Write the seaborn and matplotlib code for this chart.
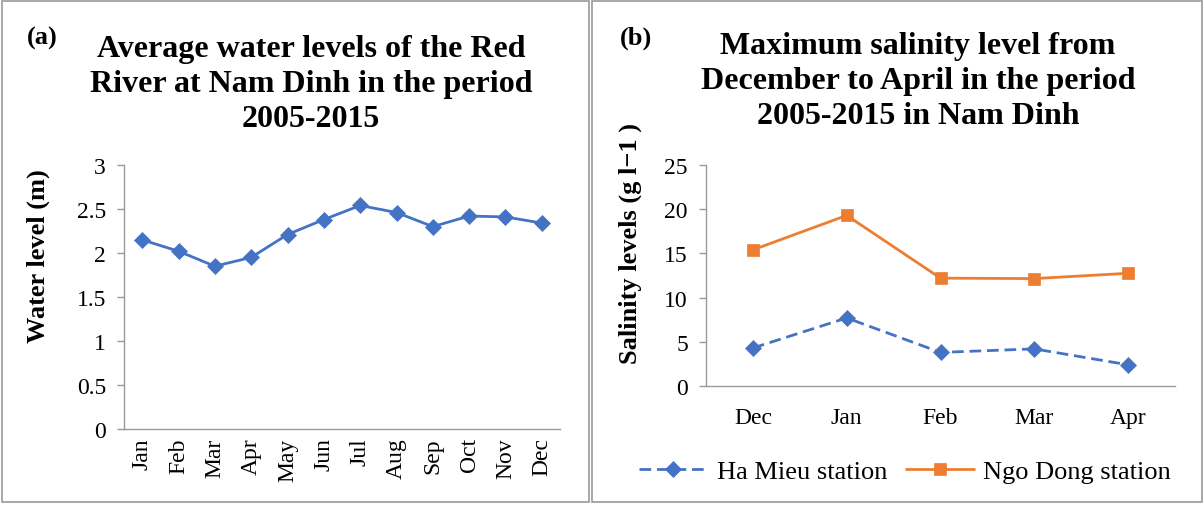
import pandas as pd
import matplotlib.pyplot as plt
import seaborn as sns
from matplotlib.patches import Rectangle

# panel (a): average monthly water level, Red River at Nam Dinh
MONTHS = ["Jan", "Feb", "Mar", "Apr", "May", "Jun",
          "Jul", "Aug", "Sep", "Oct", "Nov", "Dec"]
WATER_LEVEL = [2.15, 2.02, 1.85, 1.95, 2.21, 2.38,
               2.54, 2.46, 2.30, 2.42, 2.41, 2.34]

# panel (b): maximum salinity Dec-Apr
SEASON = ["Dec", "Jan", "Feb", "Mar", "Apr"]
HA_MIEU = [4.3, 7.7, 3.8, 4.2, 2.4]
NGO_DONG = [15.4, 19.3, 12.2, 12.15, 12.75]

BLUE = "#4472C4"
ORANGE = "#ED7D31"
AXIS_GREY = "#9a9a9a"

sns.set_theme(style="white")
plt.rcParams["font.family"] = ["Liberation Serif", "DejaVu Serif"]
plt.rcParams["text.color"] = "black"

W, H = 1204, 506
fig = plt.figure(figsize=(W / 100, H / 100), dpi=100)


def px(x, y):
    # pixel position (from top-left) -> figure fraction
    return x / W, 1 - y / H


def style_axes(ax):
    sns.despine(ax=ax)
    for side in ["left", "bottom"]:
        ax.spines[side].set_color(AXIS_GREY)
        ax.spines[side].set_linewidth(1.0)
    ax.tick_params(axis="y", length=5, width=1.0, color=AXIS_GREY,
                   labelsize=17, pad=8, left=True, labelcolor="black")
    ax.tick_params(axis="x", length=0, labelsize=17, labelcolor="black")
    ax.set_xlabel("")
    ax.set_ylabel("")
    ax.grid(False)


# ---- panel (a)
ax1 = fig.add_axes([124 / W, 1 - 430 / H, (560 - 124) / W, (430 - 166) / H])
sns.lineplot(x=MONTHS, y=WATER_LEVEL, ax=ax1, color=BLUE, linewidth=2.0,
             marker="D", markersize=8, markeredgecolor=BLUE,
             markeredgewidth=0.5)
ax1.set_xlim(-0.5, len(MONTHS) - 0.5)
ax1.set_ylim(0, 3)
ax1.set_yticks([0, 0.5, 1, 1.5, 2, 2.5, 3])
ax1.set_yticklabels(["0", "0.5", "1", "1.5", "2", "2.5", "3"])
style_axes(ax1)
ax1.tick_params(axis="x", rotation=90, pad=6)

# ---- panel (b)
ax2 = fig.add_axes([706 / W, 1 - 387 / H, (1175 - 706) / W, (387 - 166) / H])
sns.lineplot(x=SEASON, y=HA_MIEU, ax=ax2, color=BLUE, linewidth=2.0,
             linestyle=(0, (4.2, 2.1)), marker="D", markersize=8,
             markeredgecolor=BLUE, markeredgewidth=0.5,
             label="Ha Mieu station")
sns.lineplot(x=SEASON, y=NGO_DONG, ax=ax2, color=ORANGE, linewidth=2.0,
             marker="s", markersize=9, markeredgecolor=ORANGE,
             markeredgewidth=0.5, label="Ngo Dong station")
ax2.set_xlim(-0.5, len(SEASON) - 0.5)
ax2.set_ylim(0, 25)
ax2.set_yticks([0, 5, 10, 15, 20, 25])
style_axes(ax2)
ax2.tick_params(axis="x", pad=15)

handles, labels = ax2.get_legend_handles_labels()
ax2.get_legend().remove()
fig.legend(handles, labels, loc="center", bbox_to_anchor=px(905, 472),
           ncol=2, frameon=False, fontsize=19, handlelength=2.6,
           handletextpad=0.35, columnspacing=0.7)

# ---- titles, panel tags, y labels
title_kw = dict(fontsize=23, fontweight="bold", ha="center", va="top",
                linespacing=1.27)
fig.text(*px(311, 35), "Average water levels of the Red\n"
         "River at Nam Dinh in the period\n2005-2015", **title_kw)
fig.text(*px(918, 32), "Maximum salinity level from\n"
         "December to April in the period\n2005-2015 in Nam Dinh", **title_kw)

fig.text(*px(42, 38), "(a)", fontsize=19, fontweight="bold",
         ha="center", va="center")
fig.text(*px(636, 38), "(b)", fontsize=19, fontweight="bold",
         ha="center", va="center")

fig.text(*px(38, 256), "Water level (m)", rotation=90, fontsize=19,
         fontweight="bold", ha="center", va="center")
fig.text(*px(630, 243), "Salinity levels (g l\u22121 )", rotation=90,
         fontsize=19, fontweight="bold", ha="center", va="center")

# ---- panel frames
for x0, x1 in [(2, 589), (592, 1202)]:
    fig.patches.append(Rectangle(px(x0, 503), (x1 - x0) / W, 501 / H,
                                 transform=fig.transFigure, fill=False,
                                 edgecolor=AXIS_GREY, linewidth=1.2))

fig.savefig("out.png", dpi=100)
